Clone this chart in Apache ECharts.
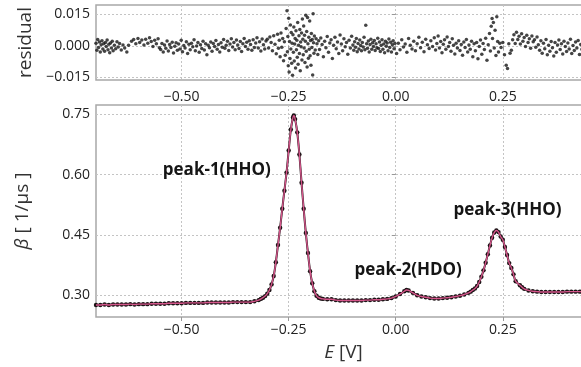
<!DOCTYPE html>
<html><head><meta charset="utf-8">
<script src="https://cdn.jsdelivr.net/npm/echarts@6/dist/echarts.min.js"></script>
<style>html,body{margin:0;padding:0;background:#fff;overflow:hidden}#c{width:581px;height:367px}</style>
</head><body><div id="c"></div>
<script>
// ---- data ----
const E = [-0.70,-0.69,-0.68,-0.67,-0.66,-0.65,-0.64,-0.63,-0.62,-0.61,-0.60,-0.59,-0.58,-0.57,-0.56,-0.55,-0.54,-0.53,-0.52,-0.51,-0.50,-0.49,-0.48,-0.47,-0.46,-0.45,-0.44,-0.43,-0.42,-0.41,-0.40,-0.39,-0.38,-0.37,-0.36,-0.35,-0.34,-0.33,-0.32,-0.315,-0.31,-0.305,-0.30,-0.295,-0.29,-0.285,-0.28,-0.275,-0.27,-0.265,-0.26,-0.255,-0.25,-0.245,-0.24,-0.238,-0.235,-0.23,-0.225,-0.22,-0.215,-0.21,-0.205,-0.20,-0.195,-0.19,-0.185,-0.18,-0.175,-0.17,-0.16,-0.15,-0.14,-0.13,-0.12,-0.11,-0.10,-0.09,-0.08,-0.07,-0.06,-0.05,-0.04,-0.03,-0.02,-0.01,0.00,0.01,0.02,0.025,0.03,0.04,0.05,0.06,0.07,0.08,0.09,0.10,0.11,0.12,0.13,0.14,0.15,0.16,0.17,0.175,0.18,0.185,0.19,0.195,0.20,0.205,0.21,0.215,0.22,0.225,0.23,0.235,0.24,0.245,0.25,0.255,0.26,0.265,0.27,0.275,0.28,0.29,0.295,0.30,0.31,0.32,0.33,0.34,0.35,0.36,0.37,0.38,0.39,0.40,0.41,0.42,0.43,0.44,0.45,0.46];
const beta = [0.276,0.276,0.277,0.276,0.277,0.277,0.277,0.277,0.278,0.277,0.278,0.278,0.278,0.279,0.279,0.279,0.279,0.280,0.280,0.280,0.280,0.281,0.281,0.281,0.281,0.281,0.282,0.282,0.282,0.282,0.282,0.282,0.283,0.283,0.283,0.283,0.283,0.285,0.288,0.291,0.294,0.298,0.304,0.313,0.327,0.348,0.382,0.425,0.468,0.515,0.560,0.605,0.660,0.712,0.742,0.747,0.738,0.705,0.650,0.580,0.515,0.455,0.405,0.360,0.330,0.310,0.299,0.294,0.292,0.291,0.290,0.290,0.288,0.287,0.287,0.287,0.287,0.287,0.287,0.288,0.288,0.289,0.289,0.290,0.291,0.293,0.297,0.303,0.310,0.313,0.312,0.306,0.300,0.297,0.295,0.293,0.292,0.292,0.293,0.294,0.295,0.297,0.299,0.302,0.306,0.309,0.313,0.317,0.323,0.333,0.346,0.362,0.381,0.402,0.424,0.443,0.456,0.461,0.457,0.446,0.438,0.420,0.400,0.380,0.368,0.352,0.335,0.325,0.320,0.316,0.312,0.310,0.309,0.308,0.308,0.308,0.308,0.308,0.308,0.309,0.309,0.309,0.309,0.309,0.309,0.310];
const residualPoints = [
[-0.700,0.0012],[-0.698,-0.0021],[-0.696,0.0030],[-0.694,-0.0008],[-0.692,0.0018],[-0.690,-0.0030],[-0.688,0.0005],[-0.686,0.0024],[-0.684,-0.0015],[-0.682,0.0009],[-0.680,-0.0026],[-0.678,0.0016],[-0.676,-0.0004],[-0.674,0.0027],[-0.672,-0.0019],[-0.670,0.0007],[-0.668,-0.0033],[-0.666,0.0013],[-0.664,-0.0010],[-0.662,0.0021],[-0.660,-0.0024],[-0.657,0.0003],[-0.654,-0.0014],[-0.651,0.0019],[-0.648,-0.0006],[-0.645,0.0011],[-0.641,-0.0020],[-0.637,0.0004],[-0.633,-0.0011],[-0.628,-0.0030],[-0.624,0.0002],
[-0.617,0.0022],[-0.612,0.0030],[-0.607,0.0009],[-0.602,0.0035],[-0.598,0.0016],[-0.593,0.0027],[-0.588,0.0004],[-0.584,0.0031],[-0.579,0.0012],[-0.575,0.0038],[-0.571,0.0020],[-0.567,-0.0003],[-0.563,0.0026],[-0.559,0.0010],[-0.555,0.0033],[-0.552,-0.0009],
[-0.549,-0.0018],[-0.546,0.0011],[-0.543,-0.0030],[-0.540,0.0004],[-0.537,-0.0012],[-0.534,0.0023],[-0.531,-0.0025],[-0.528,0.0006],[-0.525,-0.0008],[-0.522,0.0017],[-0.519,-0.0034],[-0.516,-0.0002],[-0.513,0.0014],[-0.510,-0.0021],[-0.507,0.0008],[-0.504,-0.0015],[-0.501,0.0026],[-0.498,-0.0028],[-0.495,0.0001],[-0.492,-0.0011],[-0.489,0.0019],[-0.486,-0.0036],[-0.483,0.0007],[-0.480,-0.0019],[-0.477,0.0012],[-0.474,-0.0005],[-0.471,0.0028],[-0.468,-0.0024],[-0.465,-0.0001],[-0.462,0.0015],[-0.459,-0.0031],[-0.456,0.0005],[-0.453,-0.0013],[-0.450,0.0022],[-0.447,-0.0020],[-0.444,0.0009],[-0.441,-0.0042],[-0.438,0.0003],[-0.435,-0.0009],[-0.432,0.0018],[-0.429,-0.0026],[-0.426,0.0011],[-0.423,-0.0004],[-0.420,0.0025],[-0.417,-0.0017],[-0.414,0.0006],[-0.411,-0.0029],[-0.408,0.0014],[-0.405,-0.0007],[-0.402,0.0030],[-0.399,-0.0012],[-0.396,0.0002],[-0.393,0.0021],[-0.390,-0.0022],[-0.387,0.0008],[-0.384,0.0033],[-0.381,-0.0006],[-0.378,0.0016],[-0.375,-0.0019],[-0.372,0.0027],[-0.369,0.0004],[-0.366,-0.0013],[-0.363,0.0020],[-0.360,-0.0027],[-0.357,0.0010],[-0.354,0.0035],[-0.351,-0.0003],[-0.348,0.0017],[-0.345,-0.0016],[-0.342,0.0024],[-0.339,0.0006],[-0.336,-0.0021],[-0.333,0.0029],[-0.330,-0.0008],[-0.327,0.0013],[-0.324,0.0038],[-0.321,-0.0011],[-0.318,0.0019],[-0.315,-0.0025],[-0.312,0.0032],[-0.309,0.0005],[-0.306,-0.0015],[-0.303,0.0023],
[-0.300,0.0031],[-0.297,-0.0010],[-0.294,0.0042],[-0.291,0.0015],[-0.288,-0.0023],[-0.285,0.0048],[-0.282,0.0007],[-0.279,-0.0038],[-0.276,0.0055],[-0.274,-0.0012],[-0.272,0.0026],[-0.270,-0.0052],[-0.268,0.0061],[-0.266,-0.0007],[-0.264,0.0034],[-0.262,-0.0071],[-0.260,0.0019],[-0.258,-0.0045],[-0.256,0.0082],[-0.254,0.0166],[-0.253,-0.0028],[-0.252,0.0044],[-0.251,-0.0095],[-0.250,0.0130],[-0.249,-0.0124],[-0.248,0.0020],[-0.247,-0.0060],[-0.246,0.0098],[-0.245,-0.0015],[-0.244,0.0063],[-0.243,-0.0083],[-0.242,0.0012],[-0.241,-0.0140],[-0.240,0.0052],[-0.239,-0.0031],[-0.238,0.0089],[-0.237,-0.0072],[-0.236,0.0008],[-0.235,0.0035],[-0.234,-0.0105],[-0.233,0.0071],[-0.232,-0.0019],[-0.231,0.0026],[-0.230,-0.0054],[-0.229,0.0110],[-0.228,-0.0088],[-0.227,0.0003],[-0.226,0.0048],[-0.225,-0.0036],[-0.224,0.0077],[-0.223,-0.0118],[-0.222,0.0018],[-0.221,-0.0005],[-0.220,0.0060],[-0.219,-0.0067],[-0.218,0.0127],[-0.217,0.0031],[-0.216,-0.0043],[-0.215,0.0094],[-0.214,-0.0011],[-0.213,0.0050],[-0.212,-0.0079],[-0.211,0.0022],[-0.210,0.0145],[-0.209,-0.0026],[-0.208,0.0068],[-0.207,-0.0100],[-0.206,0.0134],[-0.205,0.0010],[-0.204,-0.0059],[-0.203,0.0040],[-0.202,-0.0016],[-0.201,0.0117],[-0.200,-0.0047],[-0.199,0.0025],[-0.198,-0.0092],[-0.197,0.0058],[-0.196,-0.0008],[-0.195,0.0030],[-0.194,-0.0138],[-0.193,0.0152],[-0.192,0.0014],[-0.191,-0.0035],[-0.190,0.0046],[-0.188,-0.0020],[-0.186,0.0033],[-0.184,0.0009],[-0.182,-0.0041],[-0.180,0.0024],
[-0.178,-0.0018],[-0.175,0.0037],[-0.172,0.0006],[-0.169,-0.0052],[-0.166,0.0021],[-0.163,-0.0009],[-0.160,0.0044],[-0.157,-0.0031],[-0.154,0.0013],[-0.151,0.0029],[-0.148,-0.0060],[-0.145,0.0002],[-0.142,0.0040],[-0.139,-0.0014],[-0.136,0.0018],[-0.133,-0.0037],[-0.130,0.0051],[-0.127,0.0008],[-0.124,-0.0023],[-0.121,0.0033],[-0.118,-0.0005],[-0.115,0.0015],[-0.112,-0.0040],[-0.109,0.0026],[-0.106,-0.0010],[-0.103,0.0045],[-0.100,0.0004],[-0.098,-0.0021],[-0.096,0.0019],[-0.094,-0.0007],[-0.092,0.0034],[-0.090,-0.0028],[-0.088,0.0011],[-0.086,-0.0015],[-0.084,0.0027],[-0.082,0.0001],[-0.080,-0.0024],[-0.078,0.0016],[-0.076,-0.0006],[-0.074,0.0040],[-0.072,-0.0019],[-0.070,0.0097],[-0.068,0.0009],[-0.066,-0.0012],[-0.064,0.0023],[-0.062,-0.0030],[-0.060,0.0006],[-0.058,0.0031],[-0.056,-0.0016],[-0.054,0.0014],[-0.052,-0.0004],[-0.050,0.0025],[-0.048,-0.0022],[-0.046,0.0010],[-0.044,-0.0009],[-0.042,0.0036],[-0.040,-0.0013],[-0.038,0.0018],[-0.036,-0.0027],[-0.034,0.0003],[-0.032,0.0029],[-0.030,-0.0017],[-0.028,0.0008],[-0.026,-0.0033],[-0.024,0.0021],[-0.022,-0.0002],[-0.020,0.0013],[-0.018,-0.0024],[-0.016,0.0032],[-0.014,-0.0008],[-0.012,0.0017],[-0.010,-0.0029],[-0.008,0.0005],[-0.006,0.0024],[-0.004,-0.0014],[-0.002,0.0011],
[0.002,-0.0036],[0.006,0.0012],[0.010,-0.0019],[0.014,0.0028],[0.018,-0.0006],[0.022,0.0008],[0.026,-0.0031],[0.030,0.0035],[0.034,0.0002],[0.038,-0.0015],[0.042,0.0021],[0.046,-0.0024],[0.050,0.0010],[0.054,0.0040],[0.058,-0.0009],[0.062,0.0017],[0.066,-0.0028],[0.070,0.0031],[0.074,0.0005],[0.078,-0.0013],[0.082,0.0024],[0.086,-0.0004],[0.090,0.0038],[0.093,-0.0020],[0.096,0.0011],[0.099,0.0046],[0.102,-0.0010],[0.105,0.0020],[0.108,-0.0033],[0.111,0.0007],[0.114,0.0029],[0.117,-0.0017],[0.120,0.0042],[0.123,-0.0004],[0.126,0.0015],[0.129,-0.0026],[0.132,0.0033],[0.135,0.0002],[0.138,-0.0039],[0.141,0.0012],[0.144,-0.0011],[0.147,0.0024],[0.150,-0.0022],[0.153,0.0006],[0.156,-0.0045],[0.159,0.0018],[0.162,-0.0008],[0.165,0.0030],[0.168,-0.0030],[0.171,0.0004],[0.174,-0.0016],[0.177,0.0022],[0.180,-0.0052],[0.183,0.0009],[0.186,-0.0024],[0.189,0.0015],[0.192,-0.0062],[0.195,-0.0003],[0.198,0.0027],[0.201,-0.0040],[0.204,0.0011],[0.207,-0.0018],[0.210,0.0036],[0.213,-0.0068],[0.216,0.0005],[0.219,0.0058],[0.221,-0.0025],[0.223,0.0092],[0.225,0.0129],[0.226,0.0035],[0.228,0.0110],[0.230,-0.0011],[0.232,0.0074],[0.234,-0.0046],[0.236,0.0137],[0.238,0.0020],[0.240,-0.0030],[0.243,0.0012],[0.246,-0.0008],
[0.250,0.0016],[0.254,-0.0042],[0.258,-0.0092],[0.261,-0.0107],[0.264,0.0010],[0.267,-0.0035],[0.270,-0.0021],[0.273,0.0028],[0.276,0.0052],[0.279,0.0011],[0.282,0.0064],[0.285,0.0030],[0.288,0.0045],[0.291,0.0008],[0.294,0.0057],[0.297,0.0022],[0.300,0.0039],[0.303,-0.0004],[0.306,0.0050],[0.309,0.0016],[0.312,0.0033],[0.315,-0.0012],[0.318,0.0046],[0.321,0.0019],[0.324,0.0028],[0.327,-0.0007],[0.330,0.0041],[0.333,0.0005],[0.336,-0.0021],[0.339,0.0024],[0.342,-0.0035],[0.345,0.0012],[0.348,-0.0014],[0.351,0.0030],[0.354,-0.0043],[0.357,0.0003],[0.360,-0.0026],[0.363,0.0020],[0.366,-0.0009],[0.369,-0.0048],[0.372,0.0015],[0.375,-0.0031],[0.378,0.0004],[0.381,0.0027],[0.384,-0.0018],[0.387,0.0009],[0.390,-0.0039],[0.393,0.0022],[0.396,-0.0004],[0.399,-0.0027],[0.402,0.0013],[0.405,-0.0015],[0.408,0.0031],[0.411,-0.0036],[0.414,0.0001],[0.417,-0.0022],[0.420,0.0018],[0.423,-0.0010],[0.426,0.0025],[0.429,-0.0041],[0.432,0.0006],[0.435,-0.0017],[0.438,0.0020],[0.441,-0.0029],[0.444,0.0008],[0.447,-0.0012],[0.450,0.0016],[0.453,-0.0023],[0.456,0.0003]
];
const xTicks = [-0.50,-0.25,0.00,0.25];
const betaTicks = [0.30,0.45,0.60,0.75];
const resTicks = [-0.015,0.000,0.015];
const annoText = ['peak-1(HHO)','peak-2(HDO)','peak-3(HHO)'];
const annoE = [-0.418,0.029,0.261];
const annoBeta = [0.611,0.363,0.512];

// ---- chart ----
const FONT = '"Open Sans", sans-serif';
const minus = s => s.replace('-', '\u2212');
const gridLine = {show:true, lineStyle:{color:'#c4c4c4', type:[2,2], width:1}};
const tick = {show:true, length:4, lineStyle:{color:'#999', width:1}};
const lab = {color:'#222', fontFamily:FONT, fontSize:14};
function xAxisOf(gi, margin, name){
  return {type:'value', gridIndex:gi, min:-0.70, max:0.456,
    axisLine:{show:false}, axisTick:Object.assign({customValues:xTicks}, tick),
    axisLabel:Object.assign({customValues:xTicks, margin:margin, formatter:v=>minus(v.toFixed(2))}, lab),
    splitLine:gridLine,
    name:name, nameLocation:'middle', nameGap:26,
    nameTextStyle:{fontFamily:FONT, fontSize:19, color:'#333', rich:{i:{fontStyle:'italic', fontFamily:FONT, fontSize:19, color:'#333'}}}};
}
const chart = echarts.init(document.getElementById('c'), null, {renderer:'canvas'});
chart.setOption({
  animation:false,
  backgroundColor:'#fff',
  grid:[
    {left:96, top:5, width:495, height:75, show:true, borderColor:'#a8a8a8', borderWidth:1.5, containLabel:false, outerBoundsMode:'none'},
    {left:96, top:105, width:495, height:212, show:true, borderColor:'#a8a8a8', borderWidth:1.5, containLabel:false, outerBoundsMode:'none'}
  ],
  xAxis:[ xAxisOf(0, 10, ''), xAxisOf(1, 6, '{i|E} [V]') ],
  yAxis:[
    {type:'value', gridIndex:0, min:-0.0162, max:0.0193,
     axisLine:{show:false}, axisTick:Object.assign({customValues:resTicks}, tick),
     axisLabel:Object.assign({customValues:resTicks, margin:6, formatter:v=>minus(v.toFixed(3))}, lab),
     splitLine:gridLine,
     name:'residual', nameLocation:'middle', nameGap:58,
     nameTextStyle:{fontFamily:FONT, fontSize:19, color:'#333'}},
    {type:'value', gridIndex:1, min:0.246, max:0.773,
     axisLine:{show:false}, axisTick:Object.assign({customValues:betaTicks}, tick),
     axisLabel:Object.assign({customValues:betaTicks, margin:6, formatter:v=>v.toFixed(2)}, lab),
     splitLine:gridLine,
     name:'{i|β} [ 1/μs ]', nameLocation:'middle', nameGap:64,
     nameTextStyle:{fontFamily:FONT, fontSize:19, color:'#333', rich:{i:{fontStyle:'italic', fontFamily:FONT, fontSize:19, color:'#333'}}}}
  ],
  series:[
    {type:'scatter', xAxisIndex:0, yAxisIndex:0, symbolSize:3.5,
     itemStyle:{color:'#151515'}, data:residualPoints},
    {type:'line', xAxisIndex:1, yAxisIndex:1, showSymbol:true, symbol:'circle', symbolSize:4.4, smooth:0.3,
     lineStyle:{color:'#1c1215', width:2}, itemStyle:{color:'#1c1215'}, data:E.map((e,i)=>[e,beta[i]]), z:2},
    {type:'line', xAxisIndex:1, yAxisIndex:1, showSymbol:false, smooth:0.3,
     lineStyle:{color:'#d4558a', width:1.4}, data:E.map((e,i)=>[e,beta[i]]), z:3,
     markPoint:{symbolSize:0, silent:true,
       label:{show:true, position:'inside', formatter:'{b}', fontFamily:FONT, fontWeight:'bold', fontSize:17, color:'#151515'},
       data:annoText.map((t,i)=>({name:t, coord:[annoE[i], annoBeta[i]]}))}}
  ]
});
</script></body></html>
